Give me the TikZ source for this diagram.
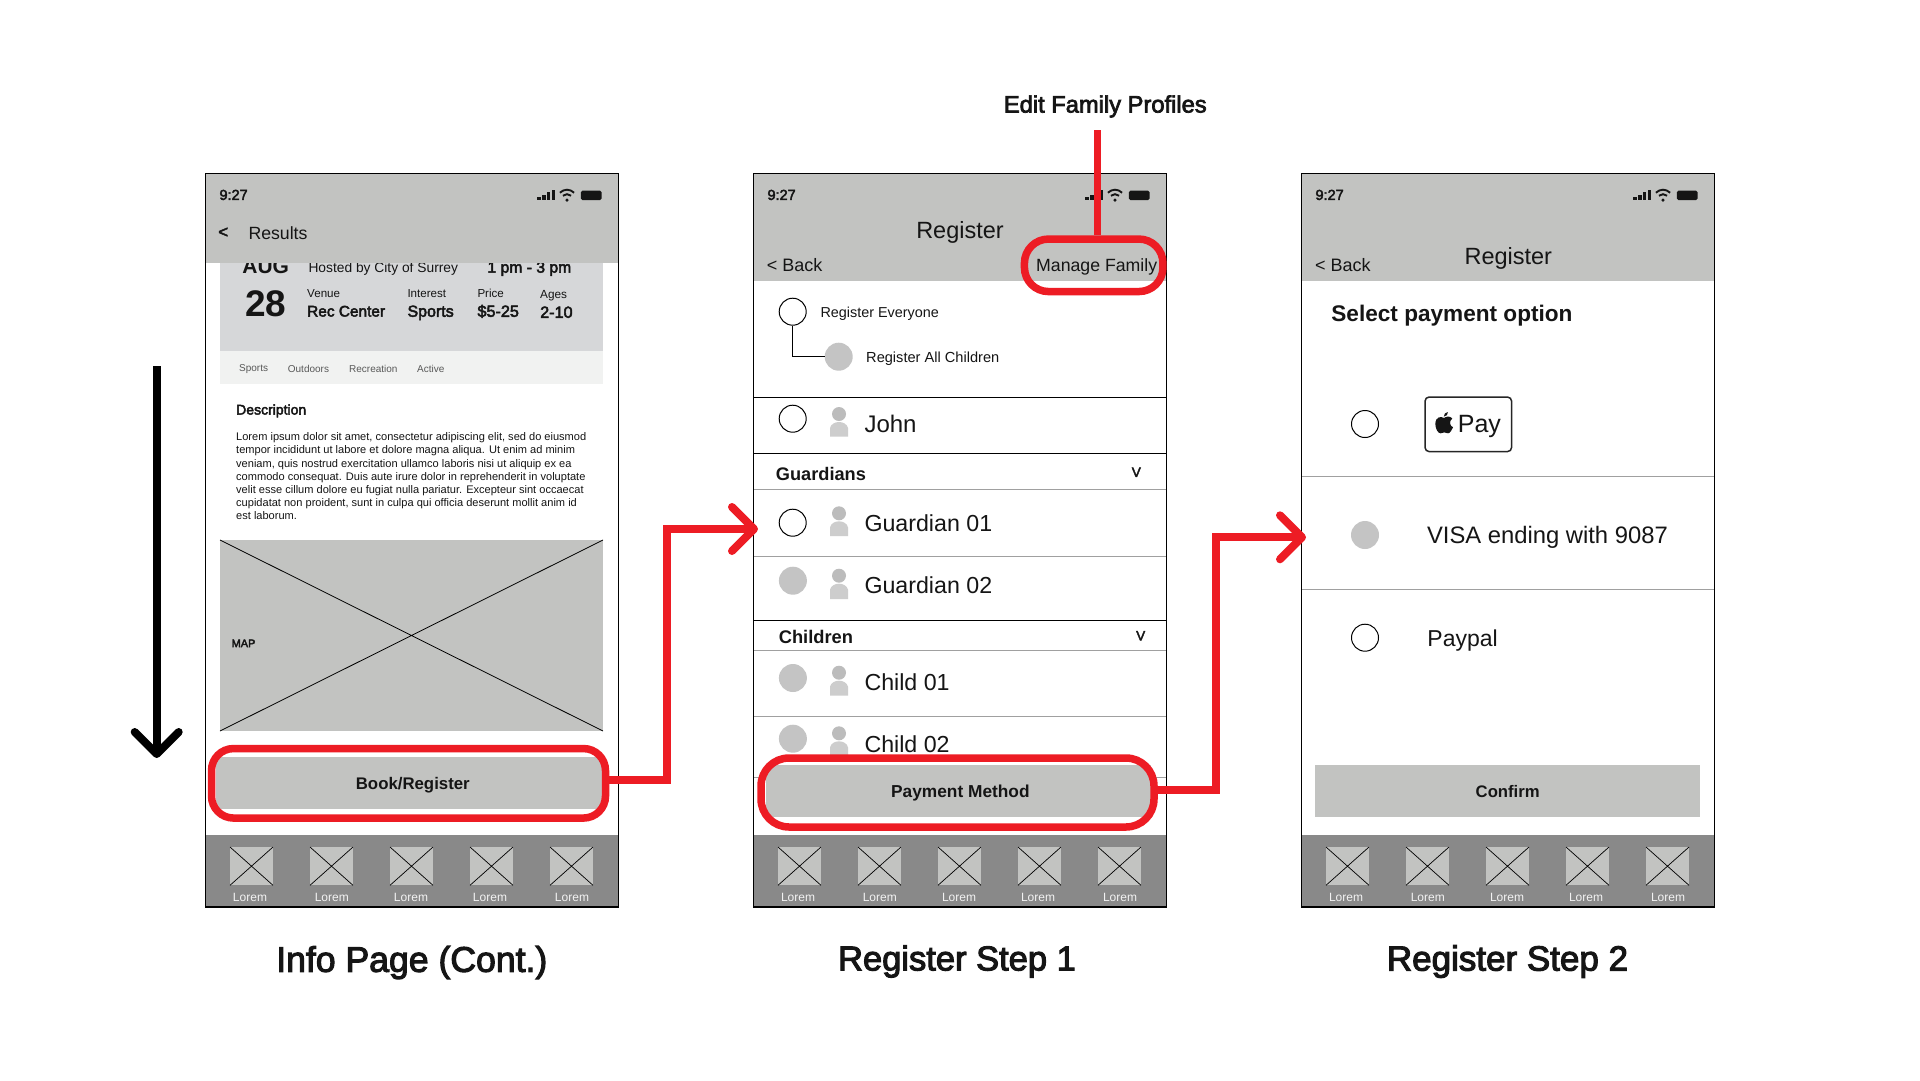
\documentclass[tikz,border=0pt]{standalone}
\usepackage{fontspec}
\setmainfont{Liberation Sans}
\newfontfamily\medfont[FakeBold=3]{Liberation Sans}
\usetikzlibrary{arrows.meta}
\definecolor{hdr}{HTML}{C2C3C1}
\definecolor{tabbar}{HTML}{898989}
\definecolor{cardc}{HTML}{D6D7D9}
\definecolor{tagc}{HTML}{F1F2F1}
\definecolor{redc}{HTML}{ED1C24}
\definecolor{dotc}{HTML}{C4C4C4}
\definecolor{headc}{HTML}{BCBCBC}
\definecolor{bodyc}{HTML}{CDCDCD}
\definecolor{rule}{HTML}{A0A0A0}
\definecolor{ink}{HTML}{151515}
\tikzset{
 fs/.style={font=\fontsize{#1}{#1}\selectfont,yshift={-(0.36*#1-2.15)*1pt}},
 fm/.style={font=\medfont\fontsize{#1}{#1}\selectfont,yshift={-(0.36*#1-2.15)*1pt}},
 fb/.style={font=\bfseries\fontsize{#1}{#1}\selectfont,yshift={-(0.36*#1-2.15)*1pt}},
 lbl/.style={anchor=mid west,inner sep=0pt,text=ink},
 ctr/.style={anchor=mid,inner sep=0pt,text=ink},
 frame/.style={draw=black,line width=1.1pt,anchor=north west,inner sep=0pt,minimum width=413pt,minimum height=734pt},
 radio/.style={circle,draw=black,line width=1pt,fill=white,minimum size=27pt,inner sep=0pt},
 dot/.style={circle,fill=dotc,minimum size=28pt,inner sep=0pt},
 ringnode/.style={draw=redc,line width=7.5pt,rounded corners=#1,inner sep=0pt},
 btn/.style={fill=hdr,inner sep=0pt,anchor=north west,text=ink},
 redline/.style={draw=redc,line width=8pt,line join=miter},
 ruleg/.style={draw=rule,line width=1pt},
 ruleb/.style={draw=black,line width=1pt},
 bigarrow/.style={-{Straight Barb[length=22pt,width=44pt,round]}},
}
\newcommand\chrome[2]{%
 \begin{scope}[xshift=#2pt,yshift=-172.7pt]
 \fill[tabbar] (0,662.3) rectangle (413,734);
 \foreach \i/\ix/\lx in {0/24.7/44.7,1/104.7/126.5,2/184.7/205.7,3/264.7/284.7,4/344.7/366.7}{
  \fill[hdr] (\ix,674.3) rectangle +(43,38.3);
  \draw[black,line width=.7pt] (\ix,674.3) -- +(43,38.3) (\ix+43,674.3) -- +(-43,38.3);
  \node[ctr,fs=12,text=white!95!black] (lorem#1\i) at (\lx,724) {Lorem};
 }
 \node[lbl,fm=14.5] (time#1) at (14,21.5) {9:27};
 \foreach \k/\h in {0/3.5,1/5.5,2/8,3/10.5}{\fill[ink] (332+4.8*\k,27.6) rectangle +(3.4,-\h);}
 \fill[ink] (361.7,27.4) circle (1.7);
 \draw[ink,line width=1.9pt] (357.6,23) .. controls (360,21) and (363.4,21) .. (365.8,23);
 \draw[ink,line width=1.9pt] (354.6,20) .. controls (359,16) and (364.4,16) .. (368.8,20);
 \fill[ink,rounded corners=1.5pt] (375.6,18) rectangle (396.2,27.4);
 \end{scope}}
\newcommand\person[4]{% cx, heady, bottom, name
 \fill[headc] (#1,#2) circle (7);
 \fill[bodyc] (#1-9,#3) -- (#1-9,#2+14) .. controls (#1-8,#2+10) and (#1-4,#2+8) .. (#1,#2+8) .. controls (#1+4,#2+8) and (#1+8,#2+10) .. (#1+9,#2+14) -- (#1+9,#3) -- cycle;}
\begin{document}
\begin{tikzpicture}[x=1pt,y=-1pt]
\useasboundingbox (0,0) rectangle (1920,1080);
\fill[white] (0,0) rectangle (1920,1080);

%%% ---------- phone 1
\begin{scope}
 \fill[cardc] (220,250) rectangle (603,350.7);
 \fill[tagc] (220,350.7) rectangle (603,384);
 \node[ctr,fb=21] (aug) at (265.7,265.5) {AUG};
 \node[lbl,fs=13.8] (hosted) at (308.3,267) {Hosted by City of Surrey};
 \node[lbl,fm=15.7] (tm) at (487.3,266.5) {1 pm - 3 pm};
 \node[ctr,fb=37] (d28) at (265.7,303) {28};
 \node[lbl,fs=11.6] (venue) at (307,293) {Venue};
 \node[lbl,fm=15.4] (rec) at (307,310.5) {Rec Center};
 \node[lbl,fs=11.6] (interest) at (407.3,293) {Interest};
 \node[lbl,fm=16] (sports) at (407.3,310.5) {Sports};
 \node[lbl,fs=11.6] (price) at (477.3,293) {Price};
 \node[lbl,fm=16.2] (usd) at (477.3,310.5) {\$5-25};
 \node[lbl,fs=11.8] (ages) at (540,294) {Ages};
 \node[lbl,fm=16.2] (agev) at (540,311.5) {2-10};
 \foreach \n/\xx/\yy/\t in {t1/239/367.5/Sports,t2/287.7/368.3/Outdoors,t3/349/368.3/Recreation,t4/417/368.3/Active}{
  \node[lbl,fs=10,text=black!65] (\n) at (\xx,\yy) {\t};}
 \node[lbl,fm=14] (desc) at (236,409) {Description};
 \node[anchor=north west,inner sep=0pt,align=left,text=ink,font=\fontsize{11.05}{13.15}\selectfont] (para) at (236,432.5) {Lorem ipsum dolor sit amet, consectetur adipiscing elit, sed do eiusmod\\tempor incididunt ut labore et dolore magna aliqua. Ut enim ad minim\\veniam, quis nostrud exercitation ullamco laboris nisi ut aliquip ex ea\\commodo consequat. Duis aute irure dolor in reprehenderit in voluptate\\velit esse cillum dolore eu fugiat nulla pariatur. Excepteur sint occaecat\\cupidatat non proident, sunt in culpa qui officia deserunt mollit anim id\\est laborum.};
 \fill[hdr] (220,540) rectangle (603,731);
 \draw[black,line width=.8pt] (220,540) -- (603,731) (603,540) -- (220,731);
 \node[lbl,fm=11] (map) at (231.4,642.7) {MAP};
 \fill[hdr] (205.3,172.7) rectangle (618.7,262.7);
 \node[lbl,fm=17] (back1) at (218,231) {<};
 \node[lbl,fs=17.7] (results) at (248.3,233) {Results};
 \node[btn,minimum width=386.5pt,minimum height=52.5pt] (book) at (215.5,756.7) {};
 \node[ctr,fb=16.8] (booktxt) at (412.8,782.5) {Book/Register};
\end{scope}
\chrome{a}{205.3}
\node[frame] (phone1) at (205.3,172.7) {};
\draw[black,line width=2.2pt] (205.3,906.7) -- (618.7,906.7);

%%% ---------- phone 2
\fill[hdr] (753.3,172.7) rectangle (1166.3,280.7);
\node[ctr,fs=23.5] (reg2) at (960,230) {Register};
\node[lbl,fs=18] (back2) at (766.7,265) {< Back};
\node[lbl,fs=17.7] (manage) at (1036,265) {Manage Family};
\node[radio] (rEvery) at (792.7,311.7) {};
\node[lbl,fs=14.4] (tEvery) at (820.3,311.7) {Register Everyone};
\node[dot] (rKids) at (838.7,356.7) {};
\node[lbl,fs=14.6] (tKids) at (866,356.7) {Register All Children};
\draw[black,line width=1pt] (rEvery.south) |- (rKids.west);
\draw[ruleb] (753.3,397.3) -- (1166.3,397.3);
\draw[ruleb] (753.3,453.3) -- (1166.3,453.3);
\node[radio] (rJohn) at (792.7,418.7) {};
\person{839}{414}{436.7}{pJohn}
\node[lbl,fs=24] (john) at (864.3,423.5) {John};
\node[lbl,fb=18.2] (guard) at (775.7,473.5) {Guardians};
\node[ctr,fm=13.5] (v1) at (1136.3,471.5) {V};
\draw[ruleg] (753.3,489.3) -- (1166.3,489.3);
\node[radio] (rG1) at (792.7,522.7) {};
\person{839}{513.3}{536}{pG1}
\node[lbl,fs=23.2] (g1) at (864.3,522.5) {Guardian 01};
\draw[ruleg] (753.3,556.3) -- (1166.3,556.3);
\node[dot] (rG2) at (792.9,580.7) {};
\person{839}{575.7}{599}{pG2}
\node[lbl,fs=23.2] (g2) at (864.3,585) {Guardian 02};
\draw[ruleb] (753.3,620) -- (1166.3,620);
\node[lbl,fb=18.3] (kids) at (778.6,636.5) {Children};
\node[ctr,fm=13.5] (v2) at (1140.7,635) {V};
\draw[ruleg] (753.3,650.3) -- (1166.3,650.3);
\node[dot] (rC1) at (792.9,678) {};
\person{839}{672.7}{695.7}{pC1}
\node[lbl,fs=23.2] (c1) at (864.3,682) {Child 01};
\draw[ruleg] (753.3,716.3) -- (1166.3,716.3);
\node[dot] (rC2) at (792.9,738.7) {};
\person{839}{733.3}{756.7}{pC2}
\node[lbl,fs=23.2] (c2) at (864.3,743.5) {Child 02};
\draw[ruleg] (753.3,777.3) -- (1166.3,777.3);
\fill[white,rounded corners=28pt] (761,758) rectangle (1154,827);
\fill[white] (753.9,821) rectangle (1165.7,835);
\node[btn,minimum width=385pt,minimum height=51.7pt] (pay) at (765.7,765) {};
\node[ctr,fb=17.3] (paytxt) at (960.4,790.7) {Payment Method};
\chrome{b}{753.3}
\node[frame] (phone2) at (753.3,172.7) {};
\draw[black,line width=2.2pt] (753.3,906.7) -- (1166.3,906.7);

%%% ---------- phone 3
\fill[hdr] (1301.3,172.7) rectangle (1714.3,280.7);
\node[lbl,fs=18] (back3) at (1315,265) {< Back};
\node[ctr,fs=23.5] (reg3) at (1508.3,256) {Register};
\node[lbl,fb=22.6] (sel) at (1331.2,313) {Select payment option};
\node[radio] (rApple) at (1365,424) {};
\node[draw=black!85,line width=1.5pt,rounded corners=4pt,minimum width=86.5pt,minimum height=54.5pt,inner sep=0pt] (applebox) at (1468.3,424.3) {};
\fill[ink] (1444,418) .. controls (1441,416) and (1435.5,416.5) .. (1435.3,424) .. controls (1435.5,429) and (1438,433.3) .. (1440.5,433.3) .. controls (1442,433.3) and (1443,432.4) .. (1444.3,432.4) .. controls (1445.6,432.4) and (1446.6,433.3) .. (1448,433.3) .. controls (1450,433.3) and (1452,430) .. (1453,427.3) .. controls (1449.5,426) and (1449,420.5) .. (1452.3,418.6) .. controls (1450.5,416) and (1446.5,416) .. (1444,418) -- cycle;
\fill[ink] (1443.8,416.6) .. controls (1443.8,414) and (1445.5,412.3) .. (1448,412) .. controls (1448,414.6) and (1446.3,416.4) .. (1443.8,416.6) -- cycle;
\node[lbl,fs=25] (paytx) at (1457.7,423) {Pay};
\draw[ruleg] (1301.3,476) -- (1714.3,476);
\node[dot] (rVisa) at (1365,535) {};
\node[lbl,fs=23.8] (visa) at (1426.8,534.5) {VISA ending with 9087};
\draw[ruleg] (1301.3,589.3) -- (1714.3,589.3);
\node[radio] (rPay) at (1365,637.7) {};
\node[lbl,fs=23] (paypal) at (1427.2,637.5) {Paypal};
\node[btn,minimum width=385pt,minimum height=51.7pt] (confirm) at (1315,765) {};
\node[ctr,fb=16.7] (conftxt) at (1507.7,790.5) {Confirm};
\chrome{c}{1301.3}
\node[frame] (phone3) at (1301.3,172.7) {};
\draw[black,line width=2.2pt] (1301.3,906.7) -- (1714.3,906.7);

%%% ---------- captions
\node[ctr,fm=35.6] (cap1) at (411.8,958.5) {Info Page (Cont.)};
\node[ctr,fm=34.5] (cap2) at (957,957.5) {Register Step 1};
\node[ctr,fm=35] (cap3) at (1507.5,957.5) {Register Step 2};
\node[ctr,fm=23.7] (edit) at (1105.3,103.5) {Edit Family Profiles};

%%% ---------- red rings
\node[ringnode=22pt,minimum width=394pt,minimum height=69.5pt] (ring1) at (408.5,783.3) {};
\node[ringnode=28pt,minimum width=393pt,minimum height=69pt] (ring2) at (957.5,792.5) {};
\node[ringnode=24pt,minimum width=138.5pt,minimum height=52.5pt] (ring3) at (1093.7,265.3) {};

%%% ---------- red connectors
\coordinate (up1) at (667,529);
\coordinate (tip1) at (758,529);
\coordinate (up2) at (1215.7,537.3);
\coordinate (tip2) at (1306,537.3);
\coordinate (editstart) at (1097.3,130);
\draw[redline,bigarrow] ([yshift=3pt]ring1.east) -| (up1) -- (tip1);
\draw[redline,bigarrow] ([yshift=3pt]ring2.east) -| (up2) -- (tip2);
\draw[draw=redc,line width=7.3pt] (editstart) -- (editstart |- ring3.north);

%%% ---------- black scroll arrow
\coordinate (sTop) at (156.7,366);
\coordinate (sEnd) at (156.7,758);
\draw[black,line width=8pt,bigarrow] (sTop) -- (sEnd);
\end{tikzpicture}
\end{document}
